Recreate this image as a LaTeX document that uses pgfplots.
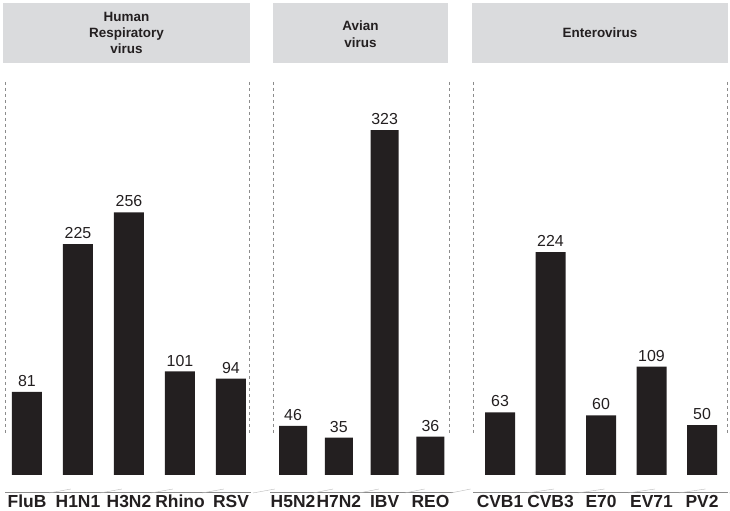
\documentclass[border=0pt]{standalone}
\usepackage{pgfplots}
\pgfplotsset{compat=1.18}
\usepackage{fontspec}
\setmainfont{Liberation Sans}
\definecolor{barblack}{RGB}{35,31,32}
\definecolor{headgray}{RGB}{218,219,221}
\definecolor{dashgray}{RGB}{140,140,140}

\pgfplotsset{panel/.style={
    scale only axis, height=393bp, ymin=0,
    axis line style={draw=none}, tick style={draw=none},
    ytick=\empty, xtick=data, major tick length=0pt,
    clip=false, ybar, bar width=30bp,
    xticklabel style={font=\fontsize{17.5}{19}\selectfont\bfseries, text=barblack,
        anchor=north, inner sep=0pt, yshift=-20bp},
    nodes near coords,
    nodes near coords style={font=\fontsize{16}{18}\selectfont, text=barblack,
        anchor=south, inner sep=0pt, yshift=5bp},
    /pgf/number format/assume math mode=true,
}}

\begin{document}
\begin{tikzpicture}[x=1bp,y=1bp]
\path[use as bounding box] (0,0) rectangle (730,511);

% header boxes
\fill[headgray] (3,508) rectangle (250,448);
\fill[headgray] (273,508) rectangle (448,448);
\fill[headgray] (472,508) rectangle (728,448);
\begin{scope}[every node/.style={align=center, text=barblack,
    font=\fontsize{13.5}{16.5}\selectfont\bfseries}]
\node at (126.5,478) {Human\\Respiratory\\virus};
\node at (360.5,477) {Avian\\virus};
\node at (600,478) {Enterovirus};
\end{scope}

% dashed separators
\foreach \x in {5,249.5,273,449,473,727}
  \draw[dashgray, line width=0.8bp, dash pattern=on 3bp off 3bp] (\x,429) -- (\x,78);

% base lines
\draw[dashgray, line width=1bp] (5,18) -- (251,18);
\draw[dashgray, line width=1bp] (270,18) -- (453,18);
\draw[dashgray, line width=1bp] (473,18) -- (728,18);

\begin{axis}[panel, at={(5bp,36bp)}, anchor=south west, width=244.5bp,
    xmin=-0.431, xmax=4.363, ymax=383,
    xticklabels={FluB,H1N1,H3N2,Rhino,RSV}]
\addplot[fill=barblack, draw=none] coordinates {(0,81) (1,225) (2,256) (3,101) (4,94)};
\pgfplotsinvokeforeach{0,...,4}{\draw[dashgray!60] (axis cs:#1,0) ++(0,-18bp) -- ++(0,4bp);}
\end{axis}

\begin{axis}[panel, at={(273bp,36bp)}, anchor=south west, width=176bp,
    xmin=-0.437, xmax=3.404, ymax=368, bar width=28bp,
    xticklabels={H5N2,H7N2,IBV,REO}]
\addplot[fill=barblack, draw=none] coordinates {(0,46) (1,35) (2,323) (3,36)};
\pgfplotsinvokeforeach{0,...,3}{\draw[dashgray!60] (axis cs:#1,0) ++(0,-18bp) -- ++(0,4bp);}
\end{axis}

\begin{axis}[panel, at={(473bp,36bp)}, anchor=south west, width=254bp,
    xmin=-0.535, xmax=4.495, ymax=395,
    xticklabels={CVB1,CVB3,E70,EV71,PV2}]
\addplot[fill=barblack, draw=none] coordinates {(0,63) (1,224) (2,60) (3,109) (4,50)};
\pgfplotsinvokeforeach{0,...,4}{\draw[dashgray!60] (axis cs:#1,0) ++(0,-18bp) -- ++(0,4bp);}
\end{axis}
\end{tikzpicture}
\end{document}
